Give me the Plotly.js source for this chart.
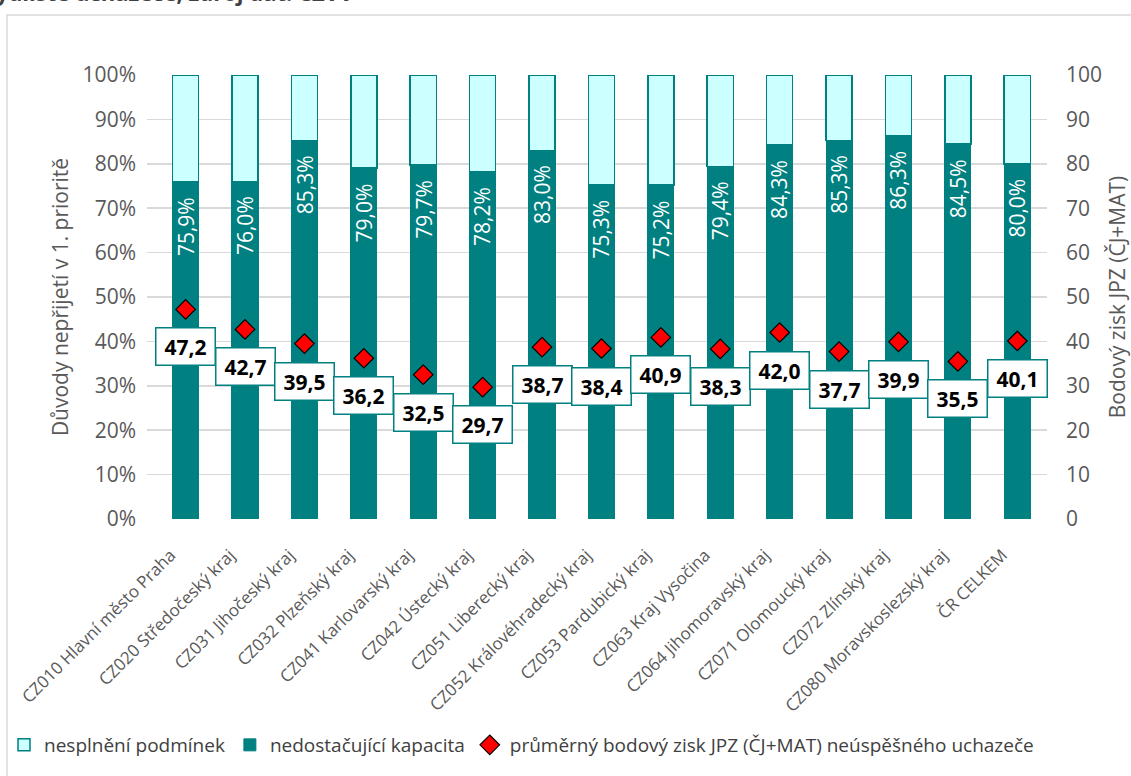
<!DOCTYPE html>
<html>
<head>
<meta charset="utf-8">
<script src="https://cdn.plot.ly/plotly-3.0.1.min.js"></script>
<style>
html,body{margin:0;padding:0;background:#fff;}
#chart{width:1131px;height:776px;}
</style>
</head>
<body>
<div id="chart"></div>
<script>
// ---- data ----
const categories = [
  "CZ010 Hlavní město Praha",
  "CZ020 Středočeský kraj",
  "CZ031 Jihočeský kraj",
  "CZ032 Plzeňský kraj",
  "CZ041 Karlovarský kraj",
  "CZ042 Ústecký kraj",
  "CZ051 Liberecký kraj",
  "CZ052 Královéhradecký kraj",
  "CZ053 Pardubický kraj",
  "CZ063 Kraj Vysočina",
  "CZ064 Jihomoravský kraj",
  "CZ071 Olomoucký kraj",
  "CZ072 Zlínský kraj",
  "CZ080 Moravskoslezský kraj",
  "ČR CELKEM"
];
const capacityPct   = [75.9, 76.0, 85.3, 79.0, 79.7, 78.2, 83.0, 75.3, 75.2, 79.4, 84.3, 85.3, 86.3, 84.5, 80.0];
const conditionsPct = [24.1, 24.0, 14.7, 21.0, 20.3, 21.8, 17.0, 24.7, 24.8, 20.6, 15.7, 14.7, 13.7, 15.5, 20.0];
const avgScore      = [47.2, 42.7, 39.5, 36.2, 32.5, 29.7, 38.7, 38.4, 40.9, 38.3, 42.0, 37.7, 39.9, 35.5, 40.1];

const seriesNames = [
  "nesplnění podmínek",
  "nedostačující kapacita",
  "průměrný bodový zisk JPZ (ČJ+MAT) neúspěšného uchazeče"
];
const leftAxisTitle  = "Důvody nepřijetí v 1. prioritě";
const rightAxisTitle = "Bodový zisk JPZ (ČJ+MAT)";
const topTitle = "bydliště uchazeče, zdroj dat: CZVV";

// ---- styling ----
const TEAL = "#008080";
const LIGHT = "#CCFFFF";
const GRID = "#D9D9D9";
const TXT = "#595959";
const FONT = "Open Sans, Noto Sans, sans-serif";

const cz = v => v.toFixed(1).replace(".", ",");
const xIdx = categories.map((c, i) => i);

const traces = [
  {
    type: "bar", name: seriesNames[1], x: xIdx, y: capacityPct.map(v => v / 100),
    width: 0.44, marker: {color: TEAL, line: {color: TEAL, width: 1}},
    legendrank: 2, hoverinfo: "skip"
  },
  {
    type: "bar", name: seriesNames[0], x: xIdx, y: conditionsPct.map(v => v / 100),
    width: 0.44, marker: {color: LIGHT, line: {color: TEAL, width: 1.5}},
    legendrank: 1, hoverinfo: "skip"
  },
  {
    type: "scatter", mode: "markers", name: seriesNames[2], x: xIdx, y: avgScore, yaxis: "y2",
    marker: {symbol: "diamond", size: 15, color: "#FF0000", line: {color: "#000", width: 1.2}},
    legendrank: 3, hoverinfo: "skip"
  }
];

// plot area in px: x 147..1047, y 75..519
const L = 147, R = 84, T = 75, B = 257;
const W = 1131 - L - R, H = 776 - T - B;
const px2x = p => (p - L) / W;
const px2y = p => (776 - B - p) / H;

const annotations = [];
capacityPct.forEach((v, i) => {
  annotations.push({
    x: i, y: v / 100, xref: "x", yref: "y", text: cz(v) + "%",
    textangle: -90, yanchor: "top", xanchor: "center", yshift: -13,
    showarrow: false, font: {family: FONT, size: 21, color: "#FFFFFF"}
  });
});
avgScore.forEach((v, i) => {
  annotations.push({
    x: i, y: v, xref: "x", yref: "y2", text: "<b>" + cz(v) + "</b>",
    yanchor: "top", xanchor: "center", yshift: -18,
    width: 56, height: 34, borderpad: 1, borderwidth: 1.5,
    bordercolor: TEAL, bgcolor: "#FFFFFF",
    showarrow: false, font: {family: FONT, size: 21, color: "#000000"}
  });
});
annotations.push({
  xref: "paper", yref: "paper", x: px2x(-20), y: px2y(-8),
  xanchor: "left", yanchor: "middle", showarrow: false,
  text: "<b>" + topTitle + "</b>", font: {family: FONT, size: 22, color: "#404040"}
});

const layout = {
  width: 1131, height: 776,
  margin: {l: L, r: R, t: T, b: B, autoexpand: false},
  paper_bgcolor: "#FFFFFF", plot_bgcolor: "#FFFFFF",
  barmode: "stack",
  showlegend: true,
  font: {family: FONT, color: TXT},
  xaxis: {
    type: "linear", range: [-0.65, 14.5], automargin: false,
    tickmode: "array", tickvals: xIdx, ticktext: categories,
    tickangle: -45, tickfont: {family: FONT, size: 17, color: TXT},
    showgrid: false, zeroline: false, showline: false, ticks: "",
    ticklabelstandoff: 22, ticklabelshift: -15
  },
  yaxis: {
    range: [0, 1], dtick: 0.1, tickformat: ".0%", automargin: true,
    tickfont: {family: FONT, size: 21, color: TXT},
    gridcolor: GRID, gridwidth: 1.5, zeroline: false, showline: false, ticks: "",
    ticklabelstandoff: 10,
    title: {text: leftAxisTitle, font: {family: FONT, size: 21, color: TXT}, standoff: 8}
  },
  yaxis2: {
    range: [0, 100], dtick: 10, overlaying: "y", side: "right", automargin: true,
    tickfont: {family: FONT, size: 21, color: TXT},
    showgrid: false, zeroline: false, showline: false, ticks: "",
    ticklabelstandoff: 18,
    title: {text: rightAxisTitle, font: {family: FONT, size: 21, color: TXT}, standoff: 17}
  },
  legend: {
    orientation: "h", x: px2x(4), xanchor: "left", y: px2y(745), yanchor: "middle",
    font: {family: FONT, size: 19, color: "#404040"}, itemwidth: 30,
    bgcolor: "rgba(0,0,0,0)", traceorder: "normal"
  },
  shapes: [{
    type: "rect", xref: "paper", yref: "paper", layer: "below",
    x0: px2x(7), x1: px2x(1150), y0: px2y(800), y1: px2y(15),
    line: {color: GRID, width: 1.5}, fillcolor: "rgba(0,0,0,0)"
  }],
  annotations: annotations
};

Plotly.newPlot("chart", traces, layout, {staticPlot: true, displayModeBar: false});
</script>
</body>
</html>
